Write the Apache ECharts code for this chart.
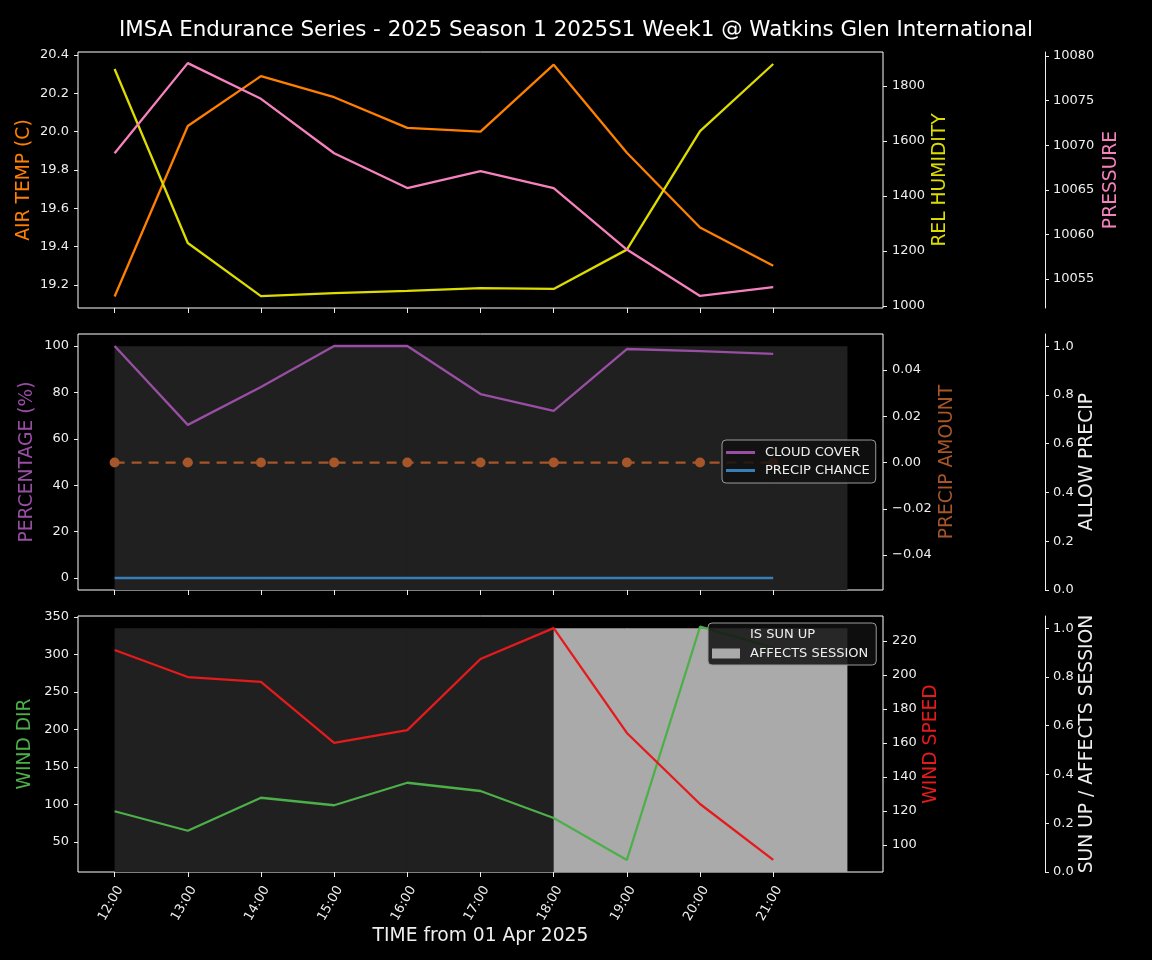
<!DOCTYPE html>
<html>
<head>
<meta charset="utf-8">
<script src="https://cdn.jsdelivr.net/npm/echarts@6/dist/echarts.min.js"></script>
<style>
    html, body { margin: 0; padding: 0; background: #000; }
    #chart { width: 1152px; height: 960px; }
</style>
</head>
<body>
<div id="chart"></div>
<script>
// hourly samples, 12:00 .. 21:00
const timeLabels = ['12:00', '13:00', '14:00', '15:00', '16:00', '17:00', '18:00', '19:00', '20:00', '21:00'];

const airTemp = [19.14, 20.03, 20.29, 20.18, 20.02, 20.0, 20.35, 19.89, 19.5, 19.3];
const relHumidity = [1862, 1229, 1036, 1047, 1055, 1065, 1062, 1205, 1636, 1880];
const pressure = [10069.1, 10079.2, 10075.2, 10069.1, 10065.2, 10067.1, 10065.2, 10058.3, 10053.1, 10054.1];

const cloudCover = [100, 66, 82.3, 100, 100, 79.3, 72, 98.7, 97.8, 96.6];
const precipChance = [0, 0, 0, 0, 0, 0, 0, 0, 0, 0];
const precipAmount = [0, 0, 0, 0, 0, 0, 0, 0, 0, 0];
const allowPrecip = [1, 1, 1, 1, 1, 1, 1, 1, 1, 1];

const windDir = [91, 65, 109, 99, 129, 118, 82, 26, 337, 309];
const windSpeed = [214.7, 198.8, 195.9, 160, 167.6, 209.4, 227.6, 165.9, 124.1, 91.2];
const isSunUp = [1, 1, 1, 1, 1, 1, 0, 0, 0, 0];
const affectsSession = [0, 0, 0, 0, 0, 0, 1, 1, 1, 1];

// tick labels
const airTempTicks = [19.2, 19.4, 19.6, 19.8, 20.0, 20.2, 20.4];
const humidityTicks = [1000, 1200, 1400, 1600, 1800];
const pressureTicks = [10055, 10060, 10065, 10070, 10075, 10080];
const pctTicks = [0, 20, 40, 60, 80, 100];
const precipAmtTicks = [-0.04, -0.02, 0, 0.02, 0.04];
const fracTicks = [0, 0.2, 0.4, 0.6, 0.8, 1.0];
const windDirTicks = [50, 100, 150, 200, 250, 300, 350];
const windSpeedTicks = [100, 120, 140, 160, 180, 200, 220];

const FONT = 'DejaVu Sans';
const TXT = '#eeeeee';
const hourIdx = timeLabels.map((_, i) => i);
const pts = (arr) => arr.map((v, i) => [i, v]);

const chart = echarts.init(document.getElementById('chart'));

const xAxisFor = (gridIndex, withLabels) => ({
    type: 'value',
    gridIndex,
    min: -0.5,
    max: 10.5,
    axisLine: { show: false, onZero: false },
    splitLine: { show: false },
    axisTick: { show: true, customValues: hourIdx, length: 5, lineStyle: { color: TXT } },
    axisLabel: withLabels ? {
        show: true,
        customValues: hourIdx,
        formatter: (v) => timeLabels[v] || '',
        rotate: 60,
        align: 'right',
        verticalAlign: 'top',
        fontSize: 13,
        fontFamily: FONT,
        color: TXT,
        margin: 12
    } : { show: false },
    name: withLabels ? 'TIME from 01 Apr 2025' : '',
    nameLocation: 'middle',
    nameGap: 55,
    nameMoveOverlap: false,
    nameTextStyle: { fontSize: 18.7, fontFamily: FONT, color: TXT }
});

const yAxisFor = (opt) => ({
    type: 'value',
    gridIndex: opt.grid,
    position: opt.position,
    offset: opt.offset || 0,
    min: opt.min,
    max: opt.max,
    axisLine: { show: !!opt.offset, onZero: false, lineStyle: { color: TXT } },
    splitLine: { show: false },
    axisTick: { show: true, customValues: opt.ticks, length: 4, lineStyle: { color: TXT } },
    axisLabel: {
        customValues: opt.ticks,
        formatter: opt.fmt,
        fontSize: 13,
        fontFamily: FONT,
        color: TXT,
        margin: opt.offset ? 8 : 9
    },
    name: opt.name,
    nameLocation: 'middle',
    nameRotate: 90,
    nameGap: opt.gap,
    nameMoveOverlap: false,
    nameTextStyle: { fontSize: 18.7, fontFamily: FONT, color: opt.color }
});

const minusFmt = (d) => (v) => v.toFixed(d).replace('-', '\u2212');

const lineSeries = (name, data, color, xi, yi, extra) => Object.assign({
    name,
    type: 'line',
    xAxisIndex: xi,
    yAxisIndex: yi,
    data: pts(data),
    showSymbol: false,
    symbol: 'none',
    lineStyle: { color, width: 2.3 },
    itemStyle: { color },
    z: 3
}, extra || {});

const spanSeries = (name, data, color, xi, yi) => ({
    name,
    type: 'custom',
    xAxisIndex: xi,
    yAxisIndex: yi,
    data: pts(data),
    itemStyle: { color },
    z: 1,
    renderItem: (params, api) => {
        const h = api.value(0);
        const v = api.value(1);
        if (!v) return null;
        const p0 = api.coord([h, 0]);
        const p1 = api.coord([h + 1, v]);
        return {
            type: 'rect',
            shape: { x: p0[0], y: p1[1], width: p1[0] - p0[0] + 1, height: p0[1] - p1[1] },
            style: { fill: color }
        };
    }
});

const option = {
    backgroundColor: '#000000',
    animation: false,
    title: {
        text: 'IMSA Endurance Series - 2025 Season 1 2025S1 Week1 @ Watkins Glen International',
        left: 'center',
        top: 15,
        textStyle: { fontSize: 21.4, fontWeight: 'normal', fontFamily: FONT, color: '#ffffff' }
    },
    grid: [
        { left: 78, top: 52, width: 805, height: 256, show: true, borderColor: '#ffffff', borderWidth: 1 },
        { left: 78, top: 334, width: 805, height: 256, show: true, borderColor: '#ffffff', borderWidth: 1 },
        { left: 78, top: 616, width: 805, height: 256, show: true, borderColor: '#ffffff', borderWidth: 1 }
    ],
    legend: [
        {
            data: ['CLOUD COVER', 'PRECIP CHANCE'],
            orient: 'vertical',
            left: 722,
            top: 440,
            icon: 'rect',
            itemWidth: 29,
            itemHeight: 3,
            itemGap: 5,
            padding: [6, 6, 6, 4],
            backgroundColor: 'rgba(16,16,16,0.85)',
            borderColor: '#999999',
            borderWidth: 1,
            borderRadius: 4,
            textStyle: { fontSize: 13, fontFamily: FONT, color: TXT, padding: [0, 0, 0, 5] }
        },
        {
            data: [
                { name: 'IS SUN UP', itemStyle: { opacity: 0 } },
                { name: 'AFFECTS SESSION' }
            ],
            orient: 'vertical',
            left: 708,
            top: 623,
            icon: 'rect',
            itemWidth: 28,
            itemHeight: 10,
            itemGap: 6,
            padding: [5, 8, 5, 4],
            backgroundColor: 'rgba(16,16,16,0.85)',
            borderColor: '#999999',
            borderWidth: 1,
            borderRadius: 4,
            textStyle: { fontSize: 13, fontFamily: FONT, color: TXT, padding: [0, 0, 0, 5] }
        }
    ],
    xAxis: [xAxisFor(0, false), xAxisFor(1, false), xAxisFor(2, true)],
    yAxis: [
        yAxisFor({ grid: 0, position: 'left', min: 19.08, max: 20.416, ticks: airTempTicks, fmt: (v) => v.toFixed(1), name: 'AIR TEMP (C)', color: '#ff7f00', gap: 44 }),
        yAxisFor({ grid: 0, position: 'right', min: 992.7, max: 1923.6, ticks: humidityTicks, fmt: (v) => String(v), name: 'REL HUMIDITY', color: '#dcdc00', gap: 48 }),
        yAxisFor({ grid: 0, position: 'right', offset: 162, min: 10051.75, max: 10080.45, ticks: pressureTicks, fmt: (v) => String(v), name: 'PRESSURE', color: '#f781bf', gap: 57 }),

        yAxisFor({ grid: 1, position: 'left', min: -5.17, max: 105.17, ticks: pctTicks, fmt: (v) => String(v), name: 'PERCENTAGE (%)', color: '#984ea3', gap: 41 }),
        yAxisFor({ grid: 1, position: 'right', min: -0.0551, max: 0.0556, ticks: precipAmtTicks, fmt: minusFmt(2), name: 'PRECIP AMOUNT', color: '#a65628', gap: 55 }),
        yAxisFor({ grid: 1, position: 'right', offset: 162, min: 0, max: 1.05, ticks: fracTicks, fmt: (v) => v.toFixed(1), name: 'ALLOW PRECIP', color: TXT, gap: 33 }),

        yAxisFor({ grid: 2, position: 'left', min: 10, max: 351.3, ticks: windDirTicks, fmt: (v) => String(v), name: 'WIND DIR', color: '#4daf4a', gap: 43 }),
        yAxisFor({ grid: 2, position: 'right', min: 84.1, max: 234.7, ticks: windSpeedTicks, fmt: (v) => String(v), name: 'WIND SPEED', color: '#e41a1c', gap: 39 }),
        yAxisFor({ grid: 2, position: 'right', offset: 162, min: 0, max: 1.05, ticks: fracTicks, fmt: (v) => v.toFixed(1), name: 'SUN UP / AFFECTS SESSION', color: TXT, gap: 33 })
    ],
    series: [
        // panel 1
        lineSeries('AIR TEMP', airTemp, '#ff7f00', 0, 0),
        lineSeries('REL HUMIDITY', relHumidity, '#dcdc00', 0, 1),
        lineSeries('PRESSURE', pressure, '#f781bf', 0, 2),

        // panel 2
        spanSeries('ALLOW PRECIP', allowPrecip, '#202020', 1, 5),
        lineSeries('CLOUD COVER', cloudCover, '#984ea3', 1, 3),
        lineSeries('PRECIP CHANCE', precipChance, '#377eb8', 1, 3),
        lineSeries('PRECIP AMOUNT', precipAmount, '#a65628', 1, 4, {
            showSymbol: true,
            symbol: 'circle',
            symbolSize: 10,
            lineStyle: { color: '#a65628', width: 2.3, type: [10, 7] }
        }),

        // panel 3
        spanSeries('IS SUN UP', isSunUp, '#202020', 2, 8),
        spanSeries('AFFECTS SESSION', affectsSession, '#aaaaaa', 2, 8),
        lineSeries('WIND DIR', windDir, '#4daf4a', 2, 6),
        lineSeries('WIND SPEED', windSpeed, '#e41a1c', 2, 7)
    ]
};

chart.setOption(option);
</script>
</body>
</html>
